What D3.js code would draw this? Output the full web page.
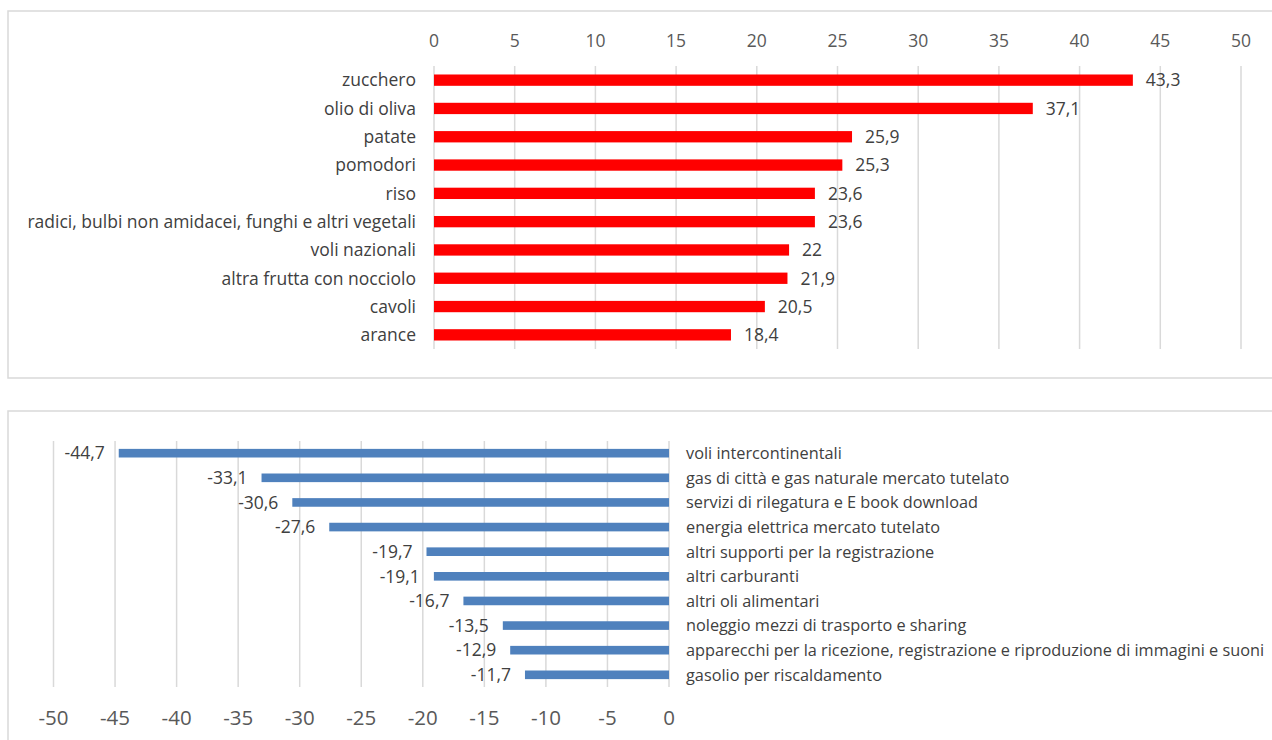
<!DOCTYPE html>
<meta charset="utf-8">
<html>
  <style>
    body, html{ margin: 0; background: #fff; overflow: hidden;}
    text{ font-family: "Open Sans", sans-serif; fill: #404040; }
    .tick text{ fill: #595959; }
    .frame{ fill: none; stroke: #d9d9d9; stroke-width: 1.5; }
    .grid line{ stroke: #d9d9d9; stroke-width: 1.5; }
  </style>
  <body>
    <svg></svg>
    <script src="https://cdn.jsdelivr.net/npm/d3@7"></script>
    <script>
// top chart: increases
var upCats = ['zucchero', 'olio di oliva', 'patate', 'pomodori', 'riso',
  'radici, bulbi non amidacei, funghi e altri vegetali', 'voli nazionali',
  'altra frutta con nocciolo', 'cavoli', 'arance']
var upVals = [43.3, 37.1, 25.9, 25.3, 23.6, 23.6, 22, 21.9, 20.5, 18.4]
var upTicks = [0, 5, 10, 15, 20, 25, 30, 35, 40, 45, 50]

// bottom chart: decreases
var downCats = ['voli intercontinentali', 'gas di città e gas naturale mercato tutelato',
  'servizi di rilegatura e E book download', 'energia elettrica mercato tutelato',
  'altri supporti per la registrazione', 'altri carburanti', 'altri oli alimentari',
  'noleggio mezzi di trasporto e sharing',
  'apparecchi per la ricezione, registrazione e riproduzione di immagini e suoni',
  'gasolio per riscaldamento']
var downVals = [-44.7, -33.1, -30.6, -27.6, -19.7, -19.1, -16.7, -13.5, -12.9, -11.7]
var downTicks = [-50, -45, -40, -35, -30, -25, -20, -15, -10, -5, 0]

var w = 1272, h = 740
  , svg = d3.select('svg').attr('width', w).attr('height', h)
  , fmt = function(v){ return String(v).replace('.', ',') }

svg.append('rect').attr('class', 'frame').attr('x', 8).attr('y', 11).attr('width', 1300).attr('height', 367)
svg.append('rect').attr('class', 'frame').attr('x', 8).attr('y', 411).attr('width', 1300).attr('height', 400)

// ---- top
var x1 = d3.scaleLinear().domain([0, 50]).range([434, 1241])
  , y1 = d3.scaleBand().domain(upCats).range([66, 349]).paddingInner(0.6).paddingOuter(0.3)
  , gUp = svg.append('g')

gUp.append('g').attr('class', 'grid').selectAll('line').data(upTicks).enter().append('line')
  .attr('x1', x1).attr('x2', x1).attr('y1', 66).attr('y2', 349)

gUp.append('g').attr('class', 'tick').selectAll('text').data(upTicks).enter().append('text')
  .attr('x', x1).attr('y', 47).attr('text-anchor', 'middle').style('font-size', '17.5px')
  .text(function(d){ return d })

gUp.selectAll('rect.bar').data(upVals).enter().append('rect').attr('class', 'bar')
  .attr('x', x1(0)).attr('y', function(d, i){ return y1(upCats[i]) })
  .attr('width', function(d){ return x1(d) - x1(0) }).attr('height', y1.bandwidth())
  .attr('fill', '#ff0000')

gUp.selectAll('text.val').data(upVals).enter().append('text').attr('class', 'val')
  .attr('x', function(d){ return x1(d) + 13 }).attr('y', function(d, i){ return y1(upCats[i]) + y1.bandwidth() / 2 })
  .attr('dy', '0.36em').style('font-size', '17.5px').text(fmt)

gUp.selectAll('text.cat').data(upCats).enter().append('text').attr('class', 'cat')
  .attr('x', 416).attr('y', function(d){ return y1(d) + y1.bandwidth() / 2 })
  .attr('dy', '0.36em').attr('text-anchor', 'end').style('font-size', '17.5px').text(function(d){ return d })

// ---- bottom
var x2 = d3.scaleLinear().domain([-50, 0]).range([53.5, 669])
  , y2 = d3.scaleBand().domain(downCats).range([441, 687]).paddingInner(0.65).paddingOuter(0.32)
  , gDown = svg.append('g')

gDown.append('g').attr('class', 'grid').selectAll('line').data(downTicks).enter().append('line')
  .attr('x1', x2).attr('x2', x2).attr('y1', 441).attr('y2', 687)

gDown.append('g').attr('class', 'tick').selectAll('text').data(downTicks).enter().append('text')
  .attr('x', x2).attr('y', 725).attr('text-anchor', 'middle').style('font-size', '20.5px')
  .text(function(d){ return d })

gDown.selectAll('rect.bar').data(downVals).enter().append('rect').attr('class', 'bar')
  .attr('x', function(d){ return x2(d) }).attr('y', function(d, i){ return y2(downCats[i]) })
  .attr('width', function(d){ return x2(0) - x2(d) }).attr('height', y2.bandwidth())
  .attr('fill', '#4f81bd')

gDown.selectAll('text.val').data(downVals).enter().append('text').attr('class', 'val')
  .attr('x', function(d){ return x2(d) - 14 }).attr('y', function(d, i){ return y2(downCats[i]) + y2.bandwidth() / 2 })
  .attr('dy', '0.36em').attr('text-anchor', 'end').style('font-size', '17.5px').text(fmt)

gDown.selectAll('text.cat').data(downCats).enter().append('text').attr('class', 'cat')
  .attr('x', 686).attr('y', function(d){ return y2(d) + y2.bandwidth() / 2 })
  .attr('dy', '0.36em').style('font-size', '16.3px').text(function(d){ return d })
    </script>
  </body>
</html>
